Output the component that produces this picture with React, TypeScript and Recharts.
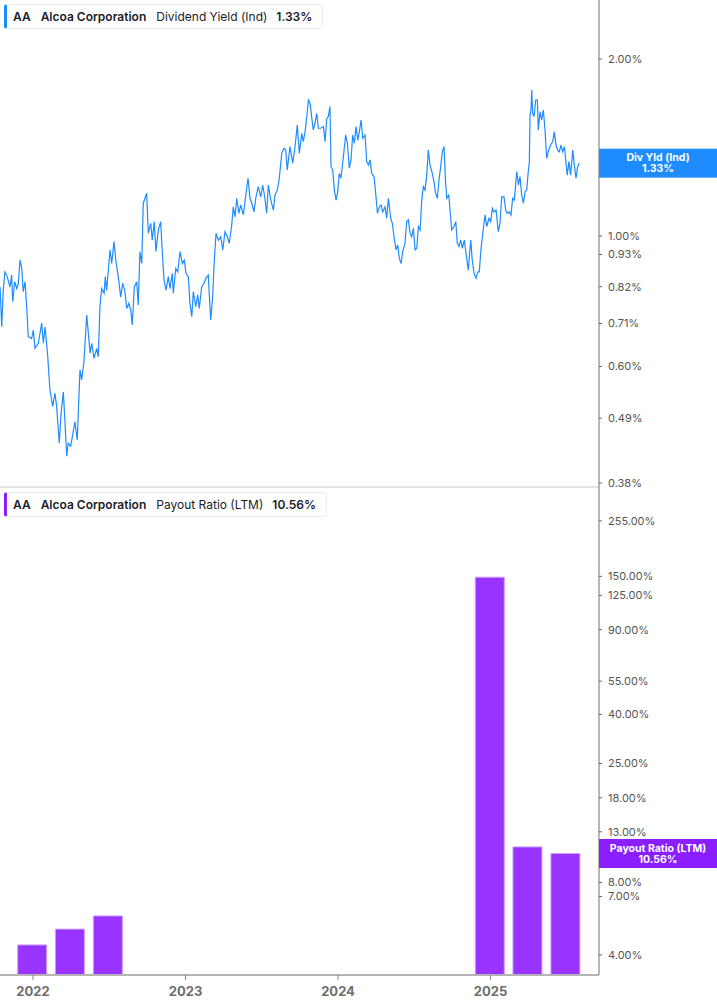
import React from 'react';
import { LineChart, Line, XAxis, YAxis, BarChart, Bar, ReferenceDot } from 'recharts';

// Dividend yield (Ind), % — time as decimal year
const yieldTimes = [
  2021.784, 2021.795, 2021.805, 2021.816, 2021.831, 2021.849, 2021.860, 2021.867, 2021.880, 2021.893,
  2021.904, 2021.915, 2021.926, 2021.936, 2021.948, 2021.959, 2021.969, 2021.991, 2022.002, 2022.013,
  2022.035, 2022.057, 2022.068, 2022.079, 2022.096, 2022.111, 2022.129, 2022.144, 2022.155, 2022.172,
  2022.184, 2022.199, 2022.210, 2022.221, 2022.231, 2022.247, 2022.275, 2022.290, 2022.308, 2022.319,
  2022.334, 2022.352, 2022.363, 2022.374, 2022.385, 2022.400, 2022.418, 2022.428, 2022.439, 2022.450,
  2022.466, 2022.474, 2022.483, 2022.505, 2022.516, 2022.531, 2022.544, 2022.559, 2022.575, 2022.588,
  2022.603, 2022.614, 2022.628, 2022.641, 2022.651, 2022.664, 2022.680, 2022.690, 2022.701, 2022.713,
  2022.723, 2022.745, 2022.756, 2022.772, 2022.782, 2022.795, 2022.806, 2022.822, 2022.837, 2022.848,
  2022.859, 2022.872, 2022.887, 2022.898, 2022.913, 2022.920, 2022.936, 2022.949, 2022.964, 2022.979,
  2022.992, 2023.003, 2023.018, 2023.029, 2023.041, 2023.051, 2023.067, 2023.080, 2023.090, 2023.106,
  2023.121, 2023.134, 2023.149, 2023.165, 2023.178, 2023.187, 2023.200, 2023.215, 2023.231, 2023.244,
  2023.259, 2023.274, 2023.287, 2023.303, 2023.313, 2023.325, 2023.336, 2023.349, 2023.362, 2023.379,
  2023.397, 2023.410, 2023.423, 2023.438, 2023.449, 2023.462, 2023.477, 2023.493, 2023.506, 2023.519,
  2023.532, 2023.543, 2023.559, 2023.576, 2023.587, 2023.602, 2023.615, 2023.631, 2023.646, 2023.657,
  2023.667, 2023.685, 2023.703, 2023.718, 2023.733, 2023.746, 2023.762, 2023.772, 2023.784, 2023.795,
  2023.806, 2023.817, 2023.828, 2023.838, 2023.849, 2023.860, 2023.871, 2023.886, 2023.904, 2023.915,
  2023.926, 2023.936, 2023.947, 2023.954, 2023.965, 2023.976, 2023.987, 2023.998, 2024.008, 2024.019,
  2024.035, 2024.050, 2024.061, 2024.074, 2024.085, 2024.096, 2024.107, 2024.118, 2024.129, 2024.140,
  2024.151, 2024.162, 2024.177, 2024.188, 2024.199, 2024.210, 2024.221, 2024.236, 2024.249, 2024.258,
  2024.271, 2024.282, 2024.293, 2024.308, 2024.319, 2024.330, 2024.345, 2024.356, 2024.367, 2024.380,
  2024.391, 2024.402, 2024.413, 2024.424, 2024.439, 2024.450, 2024.461, 2024.472, 2024.483, 2024.494,
  2024.505, 2024.516, 2024.527, 2024.538, 2024.549, 2024.559, 2024.570, 2024.581, 2024.592, 2024.603,
  2024.618, 2024.629, 2024.640, 2024.651, 2024.662, 2024.673, 2024.684, 2024.695, 2024.704, 2024.713,
  2024.726, 2024.736, 2024.745, 2024.760, 2024.772, 2024.782, 2024.793, 2024.804, 2024.815, 2024.828,
  2024.839, 2024.854, 2024.870, 2024.880, 2024.892, 2024.905, 2024.916, 2024.926, 2024.937, 2024.949,
  2024.964, 2024.975, 2024.990, 2025.001, 2025.012, 2025.023, 2025.036, 2025.051, 2025.062, 2025.073,
  2025.088, 2025.099, 2025.110, 2025.123, 2025.134, 2025.145, 2025.156, 2025.165, 2025.172, 2025.182,
  2025.193, 2025.204, 2025.215, 2025.226, 2025.237, 2025.248, 2025.254, 2025.259, 2025.265, 2025.270,
  2025.276, 2025.285, 2025.296, 2025.307, 2025.313, 2025.324, 2025.335, 2025.346, 2025.357, 2025.368,
  2025.381, 2025.394, 2025.408, 2025.418, 2025.429, 2025.440, 2025.451, 2025.462, 2025.473, 2025.484,
  2025.494, 2025.503, 2025.514, 2025.525, 2025.539, 2025.549, 2025.560, 2025.571, 2025.582,
];

const yieldValues = [
  0.819, 0.701, 0.809, 0.869, 0.853, 0.819, 0.858, 0.773, 0.836, 0.814,
  0.831, 0.910, 0.882, 0.804, 0.836, 0.754, 0.674, 0.669, 0.692, 0.644,
  0.657, 0.711, 0.657, 0.701, 0.627, 0.547, 0.513, 0.540, 0.513, 0.444,
  0.499, 0.543, 0.480, 0.422, 0.444, 0.439, 0.483, 0.450, 0.592, 0.569,
  0.611, 0.734, 0.683, 0.632, 0.657, 0.619, 0.644, 0.623, 0.758, 0.814,
  0.799, 0.853, 0.809, 0.947, 0.898, 0.978, 0.904, 0.853, 0.788, 0.831,
  0.804, 0.753, 0.768, 0.748, 0.706, 0.819, 0.836, 0.763, 0.940, 0.898,
  1.137, 1.182, 1.011, 1.051, 0.984, 1.058, 0.941, 1.024, 1.058, 0.935,
  0.842, 0.809, 0.853, 0.814, 0.864, 0.799, 0.881, 0.869, 0.941, 0.898,
  0.910, 0.864, 0.853, 0.768, 0.729, 0.804, 0.758, 0.794, 0.753, 0.819,
  0.831, 0.848, 0.858, 0.720, 0.788, 0.892, 1.011, 0.984, 0.997, 0.947,
  1.017, 0.997, 0.972, 1.044, 1.121, 1.078, 1.159, 1.093, 1.129, 1.086,
  1.182, 1.254, 1.159, 1.129, 1.099, 1.166, 1.213, 1.166, 1.221, 1.166,
  1.093, 1.221, 1.151, 1.107, 1.174, 1.197, 1.254, 1.383, 1.410, 1.400,
  1.295, 1.419, 1.330, 1.419, 1.545, 1.383, 1.495, 1.447, 1.505, 1.595,
  1.703, 1.681, 1.585, 1.515, 1.555, 1.617, 1.525, 1.525, 1.535, 1.447,
  1.585, 1.595, 1.660, 1.312, 1.295, 1.197, 1.151, 1.189, 1.278, 1.254,
  1.364, 1.485, 1.438, 1.304, 1.347, 1.485, 1.438, 1.535, 1.456, 1.505,
  1.575, 1.466, 1.485, 1.338, 1.321, 1.347, 1.278, 1.262, 1.166, 1.093,
  1.121, 1.129, 1.099, 1.121, 1.072, 1.159, 1.072, 1.051, 0.997, 0.947,
  0.966, 0.916, 0.898, 0.941, 0.972, 1.058, 1.065, 1.011, 0.997, 1.031,
  0.947, 0.953, 1.037, 1.024, 1.151, 1.213, 1.197, 1.262, 1.400, 1.321,
  1.278, 1.237, 1.182, 1.159, 1.245, 1.312, 1.391, 1.419, 1.245, 1.159,
  1.174, 1.093, 1.024, 1.037, 1.058, 0.972, 0.960, 0.984, 0.953, 0.984,
  0.935, 0.875, 0.984, 0.910, 0.864, 0.848, 0.869, 0.869, 0.947, 1.011,
  1.086, 1.037, 1.072, 1.058, 1.114, 1.099, 1.107, 1.017, 1.051, 1.166,
  1.166, 1.107, 1.093, 1.099, 1.086, 1.159, 1.151, 1.229, 1.287, 1.221,
  1.262, 1.174, 1.137, 1.189, 1.197, 1.295, 1.330, 1.607, 1.638, 1.771,
  1.617, 1.595, 1.703, 1.703, 1.515, 1.627, 1.575, 1.638, 1.515, 1.356,
  1.400, 1.428, 1.447, 1.505, 1.428, 1.400, 1.391, 1.428, 1.391, 1.419,
  1.338, 1.269, 1.338, 1.269, 1.400, 1.321, 1.254, 1.312, 1.330,
];

const yieldTicks = [0.38, 0.49, 0.6, 0.71, 0.82, 0.93, 1, 2];

// Payout ratio (LTM), % — quarter ends
const payoutTimes = [2021.997, 2022.244, 2022.493, 2024.997, 2025.244, 2025.493];
const payoutValues = [4.4, 5.12, 5.81, 148.8, 11.25, 10.56];
const payoutTicks = [4, 7, 8, 13, 18, 25, 40, 55, 90, 125, 150, 255];

const yearTicks = [2022, 2023, 2024, 2025];
const timeDomain: [number, number] = [2021.7836, 2025.711];
const yieldDomain: [number, number] = [0.3727, 2.52];
const payoutDomain: [number, number] = [3.3, 349.5];

const lastYield = 1.33;
const lastPayout = 10.56;

const BLUE = '#1E8CFF';
const PURPLE_BAR = '#9933FF';
const PURPLE_TAG = '#8B1EFF';
const FONT = 'Inter, "Noto Sans", sans-serif';

const yieldData = yieldTimes.map((t, i) => ({ t, v: yieldValues[i] }));
const payoutData = payoutTimes.map((t, i) => ({ t, v: payoutValues[i] }));

const pct = (v: number) => `${v.toFixed(2)}%`;

const makeTag = (color: string, line1: string, line2: string) => (props: any) => {
  const { cx, cy } = props;
  if (cx == null || cy == null) return null;
  return (
    <g>
      <rect x={cx} y={cy - 14.5} width={118} height={29} fill={color} />
      <text x={cx + 59} y={cy - 5.5} textAnchor="middle" dominantBaseline="central" fill="#fff" fontSize={10.5} fontWeight={700} fontFamily={FONT}>
        {line1}
      </text>
      <text x={cx + 59} y={cy + 5.5} textAnchor="middle" dominantBaseline="central" fill="#fff" fontSize={10.5} fontWeight={700} fontFamily={FONT}>
        {line2}
      </text>
    </g>
  );
};

const Legend = ({ top, color, metric, value }: { top: number; color: string; metric: string; value: string }) => (
  <div
    style={{
      position: 'absolute',
      left: 4,
      top,
      height: 25,
      boxSizing: 'border-box',
      border: '1px solid #ececec',
      borderLeft: `3px solid ${color}`,
      borderRadius: 3,
      background: '#fff',
      display: 'flex',
      alignItems: 'center',
      paddingLeft: 6,
      paddingRight: 10,
      fontFamily: FONT,
      fontSize: 12,
      color: '#1c1c28',
      whiteSpace: 'nowrap',
      zIndex: 2,
    }}
  >
    <span style={{ fontWeight: 600, marginRight: 10 }}>AA</span>
    <span style={{ fontWeight: 600, marginRight: 10 }}>Alcoa Corporation</span>
    <span style={{ fontWeight: 400, marginRight: 9 }}>{metric}</span>
    <span style={{ fontWeight: 600 }}>{value}</span>
  </div>
);

const tickStyle = { fontSize: 11, fill: '#555', fontFamily: FONT };

export default function App() {
  return (
    <div style={{ position: 'absolute', left: 0, top: 0, width: 717, height: 1005, background: '#fff', fontFamily: FONT, overflow: 'hidden' }}>
      <div style={{ position: 'absolute', left: 0, top: 488 }}>
        <BarChart width={717} height={517} data={payoutData} margin={{ top: 0, right: 0, bottom: 0, left: 0 }}>
          <XAxis
            dataKey="t"
            type="number"
            domain={timeDomain}
            allowDataOverflow
            ticks={yearTicks}
            interval={0}
            height={30}
            tickSize={5}
            tickMargin={7}
            axisLine={{ stroke: '#b4b4b4', strokeWidth: 2 }}
            tickLine={{ stroke: '#888' }}
            tick={{ fontSize: 13, fontWeight: 700, fill: '#6e6e6e', fontFamily: FONT }}
            tickFormatter={(v: number) => String(Math.round(v))}
          />
          <YAxis
            orientation="right"
            type="number"
            scale="log"
            domain={payoutDomain}
            allowDataOverflow
            ticks={payoutTicks}
            interval={0}
            width={118}
            tickSize={3}
            tickMargin={6}
            axisLine={{ stroke: '#a0a0a0', strokeWidth: 1.5 }}
            tickLine={{ stroke: '#666' }}
            tick={tickStyle}
            tickFormatter={pct}
          />
          <Bar dataKey="v" fill={PURPLE_BAR} stroke="#C8A2FF" strokeWidth={1} barSize={29} isAnimationActive={false} />
          <ReferenceDot x={timeDomain[1]} y={lastPayout} ifOverflow="visible" shape={makeTag(PURPLE_TAG, 'Payout Ratio (LTM)', pct(lastPayout))} />
        </BarChart>
      </div>
      <div style={{ position: 'absolute', left: 0, top: 486, width: 599, height: 2, background: '#e2e2e2' }} />
      <div style={{ position: 'absolute', left: 0, top: 0, pointerEvents: 'none' }}>
        <LineChart width={717} height={500} data={yieldData} margin={{ top: 0, right: 0, bottom: 12, left: 0 }}>
          <XAxis dataKey="t" type="number" domain={timeDomain} allowDataOverflow hide />
          <YAxis
            orientation="right"
            type="number"
            scale="log"
            domain={yieldDomain}
            allowDataOverflow
            ticks={yieldTicks}
            interval={0}
            width={118}
            tickSize={3}
            tickMargin={6}
            axisLine={{ stroke: '#a0a0a0', strokeWidth: 1.5 }}
            tickLine={{ stroke: '#666' }}
            tick={tickStyle}
            tickFormatter={pct}
          />
          <Line dataKey="v" type="linear" stroke={BLUE} strokeWidth={1.2} dot={false} isAnimationActive={false} />
          <ReferenceDot x={timeDomain[1]} y={lastYield} ifOverflow="visible" shape={makeTag(BLUE, 'Div Yld (Ind)', pct(lastYield))} />
        </LineChart>
      </div>
      <Legend top={4} color={BLUE} metric="Dividend Yield (Ind)" value={pct(lastYield)} />
      <Legend top={492} color={PURPLE_TAG} metric="Payout Ratio (LTM)" value={pct(lastPayout)} />
    </div>
  );
}
